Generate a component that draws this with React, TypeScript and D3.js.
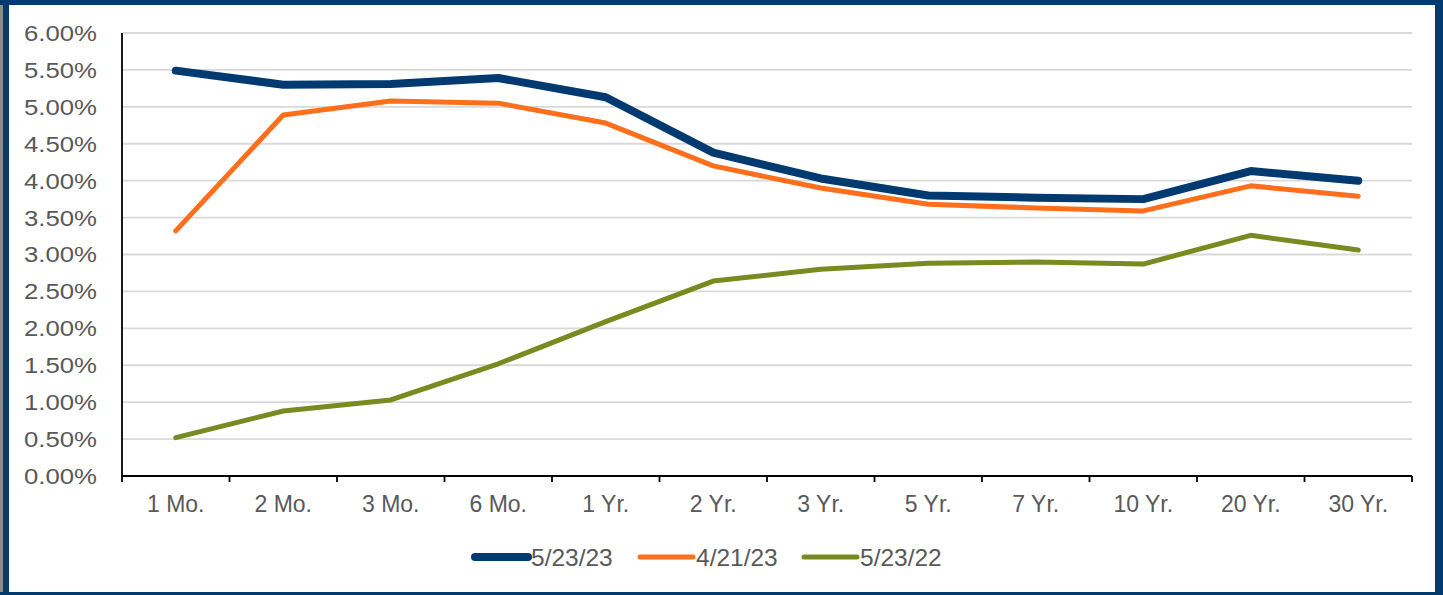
import React from "react";
import * as d3 from "d3";

const categories = ["1 Mo.", "2 Mo.", "3 Mo.", "6 Mo.", "1 Yr.", "2 Yr.", "3 Yr.", "5 Yr.", "7 Yr.", "10 Yr.", "20 Yr.", "30 Yr."];
const series1Name = "5/23/23";
const series1 = [5.49, 5.30, 5.31, 5.39, 5.13, 4.38, 4.03, 3.80, 3.77, 3.75, 4.13, 4.00];
const series2Name = "4/21/23";
const series2 = [3.32, 4.89, 5.08, 5.05, 4.78, 4.20, 3.90, 3.68, 3.63, 3.59, 3.93, 3.79];
const series3Name = "5/23/22";
const series3 = [0.52, 0.88, 1.03, 1.52, 2.09, 2.64, 2.80, 2.88, 2.90, 2.87, 3.26, 3.06];
const yTicks = [0, 0.5, 1, 1.5, 2, 2.5, 3, 3.5, 4, 4.5, 5, 5.5, 6];

const W = 1443, H = 595;
const left = 122, right = 1412, top = 33, bottom = 476;
const FONT = "Liberation Sans, Arial, sans-serif";
const textColor = "#595959";

export default function App() {
  const x = d3.scaleBand<string>().domain(categories).range([left, right]);
  const y = d3.scaleLinear().domain([0, 6]).range([bottom, top]);
  const line = d3.line<number>().x((_, i) => (x(categories[i]) as number) + x.bandwidth() / 2).y((d) => y(d));
  const seriesList = [
    { name: series1Name, values: series1, color: "#003A70", width: 8 },
    { name: series2Name, values: series2, color: "#FF6E1B", width: 5 },
    { name: series3Name, values: series3, color: "#778B21", width: 5 },
  ];
  const legendX = [475, 640, 804];
  const tickXs = categories.map((c) => x(c) as number).concat([right]);
  return (
    <svg width={W} height={H} style={{ position: "absolute", left: 0, top: 0, background: "#fff" }} fontFamily={FONT}>
      {yTicks.map((t) => (
        <line key={"g" + t} x1={left} x2={right} y1={y(t)} y2={y(t)} stroke="#D9D9D9" strokeWidth={1.8} />
      ))}
      {yTicks.map((t) => (
        <text key={"yl" + t} x={24} y={y(t)} dy="0.36em" fontSize={22} fill={textColor} textLength={73} lengthAdjust="spacingAndGlyphs">
          {t.toFixed(2) + "%"}
        </text>
      ))}
      <line x1={left} x2={left} y1={top} y2={bottom} stroke="#000" strokeWidth={1.8} />
      <line x1={left} x2={right} y1={bottom} y2={bottom} stroke="#000" strokeWidth={1.8} />
      {tickXs.map((tx, i) => (
        <line key={"t" + i} x1={tx} x2={tx} y1={bottom} y2={bottom + 6} stroke="#000" strokeWidth={1.8} />
      ))}
      {categories.map((c) => (
        <text key={"xl" + c} x={(x(c) as number) + x.bandwidth() / 2} y={512} textAnchor="middle" fontSize={23} fill={textColor}>
          {c}
        </text>
      ))}
      {seriesList.map((s) => (
        <path key={s.name} d={line(s.values) as string} fill="none" stroke={s.color} strokeWidth={s.width} strokeLinecap="round" strokeLinejoin="round" />
      ))}
      {seriesList.map((s, i) => (
        <g key={"lg" + s.name}>
          <line x1={legendX[i]} x2={legendX[i] + 53} y1={557} y2={557} stroke={s.color} strokeWidth={s.width} strokeLinecap="round" />
          <text x={legendX[i] + 56} y={566} fontSize={24.5} fill={textColor}>
            {s.name}
          </text>
        </g>
      ))}
      <rect x={0} y={0} width={3} height={H} fill="#8C8C8C" />
      <rect x={3} y={0} width={6} height={H} fill="#003A70" />
      <rect x={0} y={0} width={W} height={5} fill="#003A70" />
      <rect x={1435} y={0} width={8} height={H} fill="#003A70" />
      <rect x={0} y={592} width={W} height={3} fill="#003A70" />
    </svg>
  );
}
